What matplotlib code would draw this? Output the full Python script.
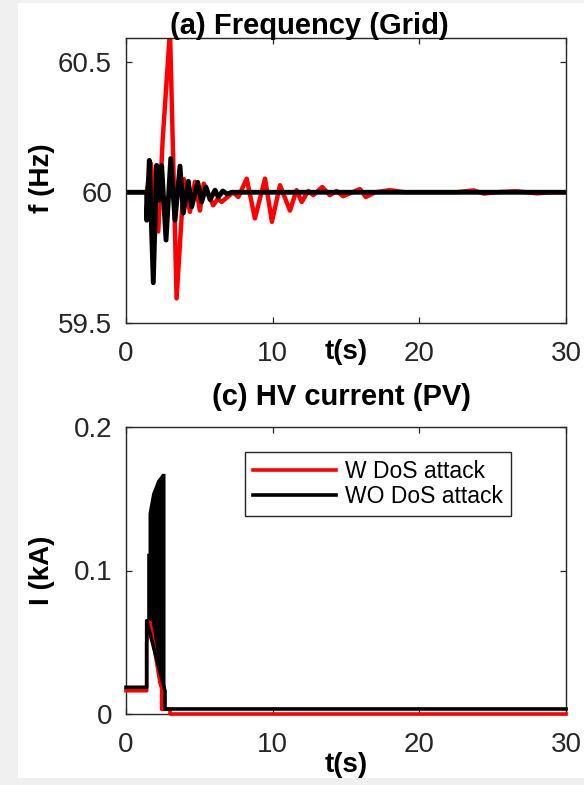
import matplotlib
matplotlib.use("Agg")
import matplotlib.pyplot as plt
from matplotlib.patches import Rectangle

plt.rcParams['font.family'] = ['Liberation Sans', 'DejaVu Sans']

# ---------------- data: (a) Frequency (Grid) ----------------
freq_t_w = [0, 1.41, 1.70, 2.20, 2.50, 3.00, 3.45, 3.95, 4.36, 4.70, 5.04, 5.30,
            5.95, 6.25, 6.52, 7.30, 7.66, 8.23, 8.79, 9.48, 9.95, 10.50, 11.18,
            11.63, 11.98, 12.43, 12.77, 13.38, 13.90, 14.36, 14.80, 15.95, 16.35,
            17.00, 18.00, 19.00, 22.50, 23.70, 24.40, 25.20, 26.60, 28.00, 29.00, 30.00]
freq_w = [60.0, 60.0, 60.11, 59.85, 60.20, 60.62, 59.594, 60.05, 59.925, 60.04, 59.93, 60.033,
          59.95, 59.975, 59.963, 60.0, 59.982, 60.052, 59.90, 60.052, 59.887, 60.027, 59.93,
          60.008, 59.963, 60.005, 59.989, 60.02, 59.989, 60.005, 59.985, 60.012, 59.982,
          60.0, 60.008, 60.0, 60.0, 60.007, 59.995, 60.0, 60.004, 59.996, 60.0, 60.0]

freq_t_wo = [0, 1.41, 1.41, 1.59, 1.86, 2.09, 2.27, 2.43, 2.73, 3.05, 3.34, 3.68,
             3.91, 4.25, 4.48, 4.89, 5.16, 5.45, 5.73, 6.07, 6.29, 6.60, 6.90, 7.20, 30.0]
freq_wo = [60.0, 60.0, 59.893, 60.122, 59.654, 60.103, 59.97, 60.103, 59.817, 60.129, 59.893, 60.10,
           59.92, 60.042, 59.944, 60.038, 59.963, 60.02, 59.972, 60.008, 59.982, 60.005, 59.993, 60.0, 60.0]

# ---------------- data: (c) HV current (PV) ----------------
cur_t_w = [0, 1.41, 1.41, 1.64, 1.98, 2.32, 2.43, 2.43, 3.00, 3.00, 30.0]
cur_w = [0.0162, 0.0162, 0.050, 0.064, 0.0425, 0.0216, 0.018, 0.0033, 0.0033, 0.0, 0.0]

cur_t_wo = [0, 1.41, 1.41, 2.66, 2.66, 30.0]
cur_wo = [0.0186, 0.0186, 0.065, 0.016, 0.0035, 0.0035]

burst_t = [1.41, 1.50, 1.50, 1.64, 1.75, 1.98, 2.09, 2.32, 2.43, 2.55, 2.66]
burst_hi = [0.112, 0.112, 0.140, 0.148, 0.154, 0.160, 0.163, 0.166, 0.1677, 0.1677, 0.1677]
burst_lo = [0.065, 0.062, 0.062, 0.060, 0.054, 0.042, 0.036, 0.022, 0.019, 0.016, 0.016]

x_ticks = [0, 10, 20, 30]
f_ticks = [59.5, 60.0, 60.5]
f_tick_labels = ['59.5', '60', '60.5']
i_ticks = [0, 0.1, 0.2]
i_tick_labels = ['0', '0.1', '0.2']
legend_labels = ['W DoS attack', 'WO DoS attack']

# ---------------- figure ----------------
W, H = 584, 785
fig = plt.figure(figsize=(W / 100, H / 100), dpi=100, facecolor='#f0f0f0')
fig.patches.append(Rectangle((18 / W, 1 - 778 / H), 1 - 18 / W, (778 - 3) / H,
                             transform=fig.transFigure, facecolor='white',
                             edgecolor='none', zorder=-10))

L = 126 / W
Wd = 440 / W
ax1 = fig.add_axes([L, 1 - 323 / H, Wd, 285 / H])
ax2 = fig.add_axes([L, 1 - 714 / H, Wd, 287 / H])

red = '#ff0000'
spine_c = '#262626'
fs = 20

ax1.plot(freq_t_w, freq_w, color=red, lw=3.2, solid_joinstyle='round')
ax1.plot(freq_t_wo, freq_wo, color='black', lw=3.5, solid_joinstyle='round')
ax1.set_xlim(0, 30)
ax1.set_ylim(59.5, 60.59)
ax1.set_yticks(f_ticks)
ax1.set_yticklabels(f_tick_labels)
ax1.set_title('(a) Frequency (Grid)', fontsize=21, fontweight='bold',
              x=(309 - 126) / 440, y=1.0, pad=3)
ax1.set_ylabel('f (Hz)', fontsize=fs, fontweight='bold')
ax1.yaxis.label.set_va('center')
ax1.yaxis.set_label_coords((42 - 126) / 440, 0.509)
ax1.set_xlabel('t(s)', fontsize=fs, fontweight='bold')
ax1.xaxis.label.set_va('center')
ax1.xaxis.set_label_coords(0.5, (323 - 352) / 285)

ax2.fill_between(burst_t, burst_lo, burst_hi, color='black', lw=0)
l1, = ax2.plot(cur_t_w, cur_w, color=red, lw=2.6, clip_on=False, zorder=3)
l2, = ax2.plot(cur_t_wo, cur_wo, color='black', lw=2.6, clip_on=False, zorder=3.1)
ax2.set_xlim(0, 30)
ax2.set_ylim(0, 0.2)
ax2.set_yticks(i_ticks)
ax2.set_yticklabels(i_tick_labels)
ax2.set_title('(c) HV current (PV)', fontsize=21, fontweight='bold',
              x=(341 - 126) / 440, y=1.0, pad=16)
ax2.set_ylabel('I (kA)', fontsize=fs, fontweight='bold')
ax2.yaxis.label.set_va('center')
ax2.yaxis.set_label_coords((42 - 126) / 440, 0.502)
ax2.set_xlabel('t(s)', fontsize=fs, fontweight='bold')
ax2.xaxis.label.set_va('center')
ax2.xaxis.set_label_coords(0.5, (714 - 765) / 287)

leg = ax2.legend([l1, l2], legend_labels, loc='upper left',
                 bbox_to_anchor=((245 - 126) / 440, (714 - 452) / 287),
                 fontsize=16.5, frameon=True, fancybox=False, framealpha=1,
                 edgecolor=spine_c, handlelength=3.6, handletextpad=0.4,
                 borderpad=0.35, labelspacing=0.1, borderaxespad=0)
leg.get_frame().set_linewidth(1.0)

for ax in (ax1, ax2):
    ax.set_xticks(x_ticks)
    ax.tick_params(direction='in', top=True, right=True, length=4, width=0.9,
                   color=spine_c, labelsize=fs, labelcolor='#262626')
    ax.tick_params(axis='x', pad=13)
    ax.tick_params(axis='y', pad=10)
    for s in ax.spines.values():
        s.set_color(spine_c)
        s.set_linewidth(1.0)

fig.savefig('out.png', dpi=100, facecolor=fig.get_facecolor())
